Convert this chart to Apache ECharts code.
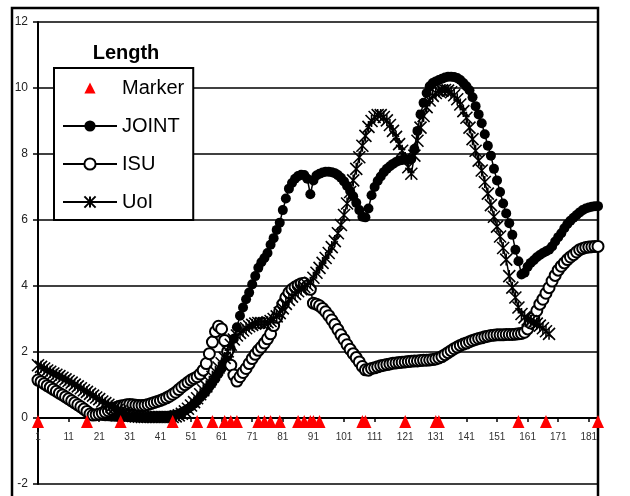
<!DOCTYPE html>
<html><head><meta charset="utf-8">
<script src="https://cdn.jsdelivr.net/npm/echarts@6/dist/echarts.min.js"></script>
<style>html,body{margin:0;padding:0;background:#fff}#c{width:630px;height:496px}</style>
</head><body><div id="c"></div>
<script>
// x categories 1..184 (index axis)
const categories = Array.from({length: 184}, (_, i) => String(i + 1));
const xLabelStep = 10;
const yMin = -2, yMax = 12, yStep = 2;

// categories where the red "Marker" triangles sit (value 0)
const markerCats = [1, 17, 28, 45, 53, 58, 62, 64, 66, 73, 75, 77, 80, 86, 88, 90, 91, 93, 107, 108, 121, 131, 132, 158, 167, 184];

const joint = [
  1.18,1.12,1.06,1.0,0.95,0.89,0.83,0.77,0.71,0.65,
  0.6,0.54,0.48,0.42,0.36,0.3,0.24,0.18,0.13,0.09,
  0.07,0.06,0.05,0.05,0.04,0.04,0.03,0.03,0.03,0.03,
  0.02,0.02,0.02,0.02,0.02,0.02,0.02,0.03,0.03,0.03,
  0.04,0.05,0.06,0.07,0.08,0.1,0.13,0.17,0.22,0.28,
  0.35,0.43,0.52,0.62,0.72,0.83,0.95,1.07,1.2,1.35,
  1.5,1.68,1.88,2.1,2.4,2.75,3.1,3.35,3.6,3.8,
  4.05,4.3,4.55,4.72,4.85,5.0,5.25,5.45,5.7,5.92,
  6.3,6.65,6.95,7.12,7.25,7.33,7.37,7.36,7.25,6.78,
  7.2,7.35,7.4,7.44,7.46,7.46,7.45,7.42,7.36,7.28,
  7.17,7.03,6.88,6.72,6.52,6.3,6.1,6.08,6.35,6.75,
  7.0,7.18,7.32,7.45,7.55,7.63,7.7,7.76,7.8,7.82,
  7.83,7.82,7.85,8.15,8.7,9.2,9.55,9.85,10.05,10.15,
  10.2,10.24,10.28,10.32,10.34,10.34,10.33,10.3,10.24,10.15,
  10.05,9.93,9.72,9.45,9.2,8.93,8.6,8.25,7.95,7.55,
  7.2,6.85,6.5,6.2,5.9,5.55,5.1,4.75,4.35,4.4,
  4.58,4.7,4.78,4.87,4.94,5.0,5.05,5.1,5.2,5.35,
  5.48,5.6,5.75,5.88,5.98,6.07,6.15,6.23,6.3,6.35,
  6.38,6.4,6.42,6.42
];

const isu = [
  1.15,1.1,1.04,0.98,0.93,0.87,0.81,0.75,0.7,0.64,
  0.58,0.52,0.46,0.4,0.34,0.27,0.2,0.12,0.09,0.1,
  0.12,0.15,0.18,0.22,0.26,0.3,0.33,0.36,0.38,0.4,
  0.41,0.4,0.39,0.38,0.38,0.39,0.41,0.44,0.47,0.5,
  0.53,0.57,0.61,0.66,0.72,0.78,0.86,0.94,1.01,1.08,
  1.15,1.2,1.25,1.33,1.45,1.65,1.95,2.3,2.62,2.78,
  2.7,2.35,2.02,1.6,1.3,1.12,1.25,1.38,1.5,1.65,
  1.8,1.93,2.05,2.15,2.27,2.4,2.55,2.8,3.05,3.25,
  3.45,3.65,3.8,3.9,3.97,4.02,4.07,4.08,4.0,3.9,
  3.48,3.45,3.4,3.32,3.22,3.1,2.97,2.83,2.68,2.52,
  2.38,2.22,2.08,1.95,1.83,1.7,1.56,1.46,1.45,1.5,
  1.52,1.55,1.58,1.6,1.62,1.64,1.66,1.67,1.68,1.69,
  1.7,1.71,1.72,1.73,1.73,1.74,1.75,1.75,1.76,1.77,
  1.79,1.82,1.86,1.92,1.98,2.04,2.1,2.15,2.2,2.24,
  2.27,2.31,2.35,2.38,2.41,2.43,2.46,2.48,2.5,2.51,
  2.52,2.52,2.52,2.53,2.53,2.53,2.54,2.55,2.56,2.6,
  2.7,2.88,3.05,3.25,3.45,3.6,3.78,3.95,4.15,4.32,
  4.48,4.6,4.7,4.8,4.88,4.95,5.03,5.1,5.14,5.17,
  5.18,5.19,5.2,5.2
];

const uoi = [
  1.6,1.55,1.5,1.44,1.4,1.35,1.31,1.27,1.22,1.17,
  1.12,1.07,1.01,0.96,0.9,0.84,0.79,0.73,0.68,0.62,
  0.57,0.5,0.45,0.4,0.35,0.3,0.25,0.2,0.15,0.11,
  0.08,0.06,0.05,0.04,0.03,0.03,0.03,0.03,0.03,0.03,
  0.03,0.03,0.03,0.03,0.03,0.05,0.08,0.13,0.2,0.28,
  0.38,0.48,0.6,0.72,0.84,0.96,1.1,1.25,1.4,1.53,
  1.66,1.82,2.02,2.22,2.38,2.5,2.58,2.65,2.72,2.78,
  2.82,2.86,2.88,2.88,2.88,2.9,2.94,3.0,3.08,3.18,
  3.32,3.46,3.58,3.68,3.76,3.84,3.9,3.97,4.03,4.1,
  4.25,4.4,4.55,4.7,4.85,5.0,5.18,5.36,5.6,5.85,
  6.15,6.5,6.85,7.2,7.55,7.9,8.25,8.55,8.82,9.0,
  9.12,9.18,9.18,9.12,9.02,8.88,8.7,8.52,8.3,8.1,
  7.88,7.6,7.4,7.95,8.4,8.8,9.15,9.42,9.62,9.76,
  9.85,9.9,9.93,9.94,9.92,9.87,9.78,9.66,9.5,9.3,
  9.1,8.8,8.45,8.1,7.8,7.5,7.15,6.8,6.45,6.1,
  5.8,5.5,5.15,4.8,4.3,3.95,3.65,3.35,3.15,3.05,
  2.98,2.94,2.9,2.86,2.8,2.72,2.63,2.55
];

const legendTitle = 'Length';
const seriesNames = ['Marker', 'JOINT', 'ISU', 'UoI'];

const markerData = categories.map(c => markerCats.indexOf(Number(c)) >= 0 ? 0 : null);
const FONT = '"Liberation Sans", Arial, sans-serif';
const STAR = 'path://M0 0L10 10M10 0L0 10M5 0L5 10';

// grid geometry: the category axis sits on value 0
const GRID_TOP = 22, GRID_BOTTOM = 12, H = 496;
const plotH = H - GRID_TOP - GRID_BOTTOM;
const zeroOffset = -plotH * (0 - yMin) / (yMax - yMin);

const chart = echarts.init(document.getElementById('c'), null, {renderer: 'canvas'});
chart.setOption({
  animation: false,
  backgroundColor: '#fff',
  textStyle: {fontFamily: FONT},
  title: {
    text: legendTitle, left: 126, top: 43, textAlign: 'center', padding: 0,
    textStyle: {fontFamily: FONT, fontSize: 20, fontWeight: 'bold', color: '#000'}
  },
  legend: {
    orient: 'vertical', left: 54, top: 68,
    padding: [10, 9, 8, 8],
    itemWidth: 54, itemHeight: 14, itemGap: 18,
    borderColor: '#000', borderWidth: 2, backgroundColor: '#fff',
    selectedMode: false,
    data: seriesNames,
    textStyle: {fontFamily: FONT, fontSize: 20, color: '#000'},
    z: 10
  },
  graphic: [{
    type: 'rect', z: 0, silent: true,
    shape: {x: 12, y: 8, width: 586, height: 520},
    style: {fill: 'none', stroke: '#000', lineWidth: 2.5}
  }],
  grid: {left: 38, right: 32, top: GRID_TOP, bottom: GRID_BOTTOM, outerBoundsMode: 'none'},
  xAxis: {
    type: 'category', data: categories, boundaryGap: false,
    position: 'bottom', offset: zeroOffset,
    axisLine: {onZero: false, lineStyle: {color: '#000', width: 2}},
    axisTick: {show: true, interval: xLabelStep - 1, length: 4, lineStyle: {color: '#000', width: 1.5}},
    axisLabel: {show: true, interval: xLabelStep - 1, margin: 14, fontSize: 10, color: '#333', fontFamily: FONT, hideOverlap: false},
    splitLine: {show: false}
  },
  yAxis: {
    type: 'value', min: yMin, max: yMax, interval: yStep,
    axisLine: {show: true, lineStyle: {color: '#000', width: 2}},
    axisTick: {show: true, length: 5, lineStyle: {color: '#000', width: 1.5}},
    axisLabel: {margin: 10, fontSize: 12, color: '#222', fontFamily: FONT},
    splitLine: {show: true, lineStyle: {color: '#000', width: 1.5}}
  },
  series: [
    {
      name: 'JOINT', type: 'line', data: joint, z: 3,
      symbol: 'circle', symbolSize: 10, showAllSymbol: true,
      itemStyle: {color: '#000'},
      lineStyle: {color: '#000', width: 1.5}
    },
    {
      name: 'ISU', type: 'line', data: isu, z: 4,
      symbol: 'emptyCircle', symbolSize: 11, showAllSymbol: true,
      itemStyle: {color: '#000', borderColor: '#000', borderWidth: 1.8},
      lineStyle: {color: '#000', width: 1.5}
    },
    {
      name: 'UoI', type: 'line', data: uoi, z: 5,
      symbol: STAR, symbolSize: 12, showAllSymbol: true,
      itemStyle: {color: '#000', borderColor: '#000', borderWidth: 1.6},
      lineStyle: {color: '#000', width: 1.5}
    },
    {
      name: 'Marker', type: 'line', data: markerData, z: 6,
      connectNulls: false,
      symbol: 'triangle', symbolSize: [12, 13], symbolOffset: [0, 3.5], showAllSymbol: true,
      itemStyle: {color: '#ff0000'},
      lineStyle: {width: 0, opacity: 0}
    }
  ]
});
</script>
</body></html>
